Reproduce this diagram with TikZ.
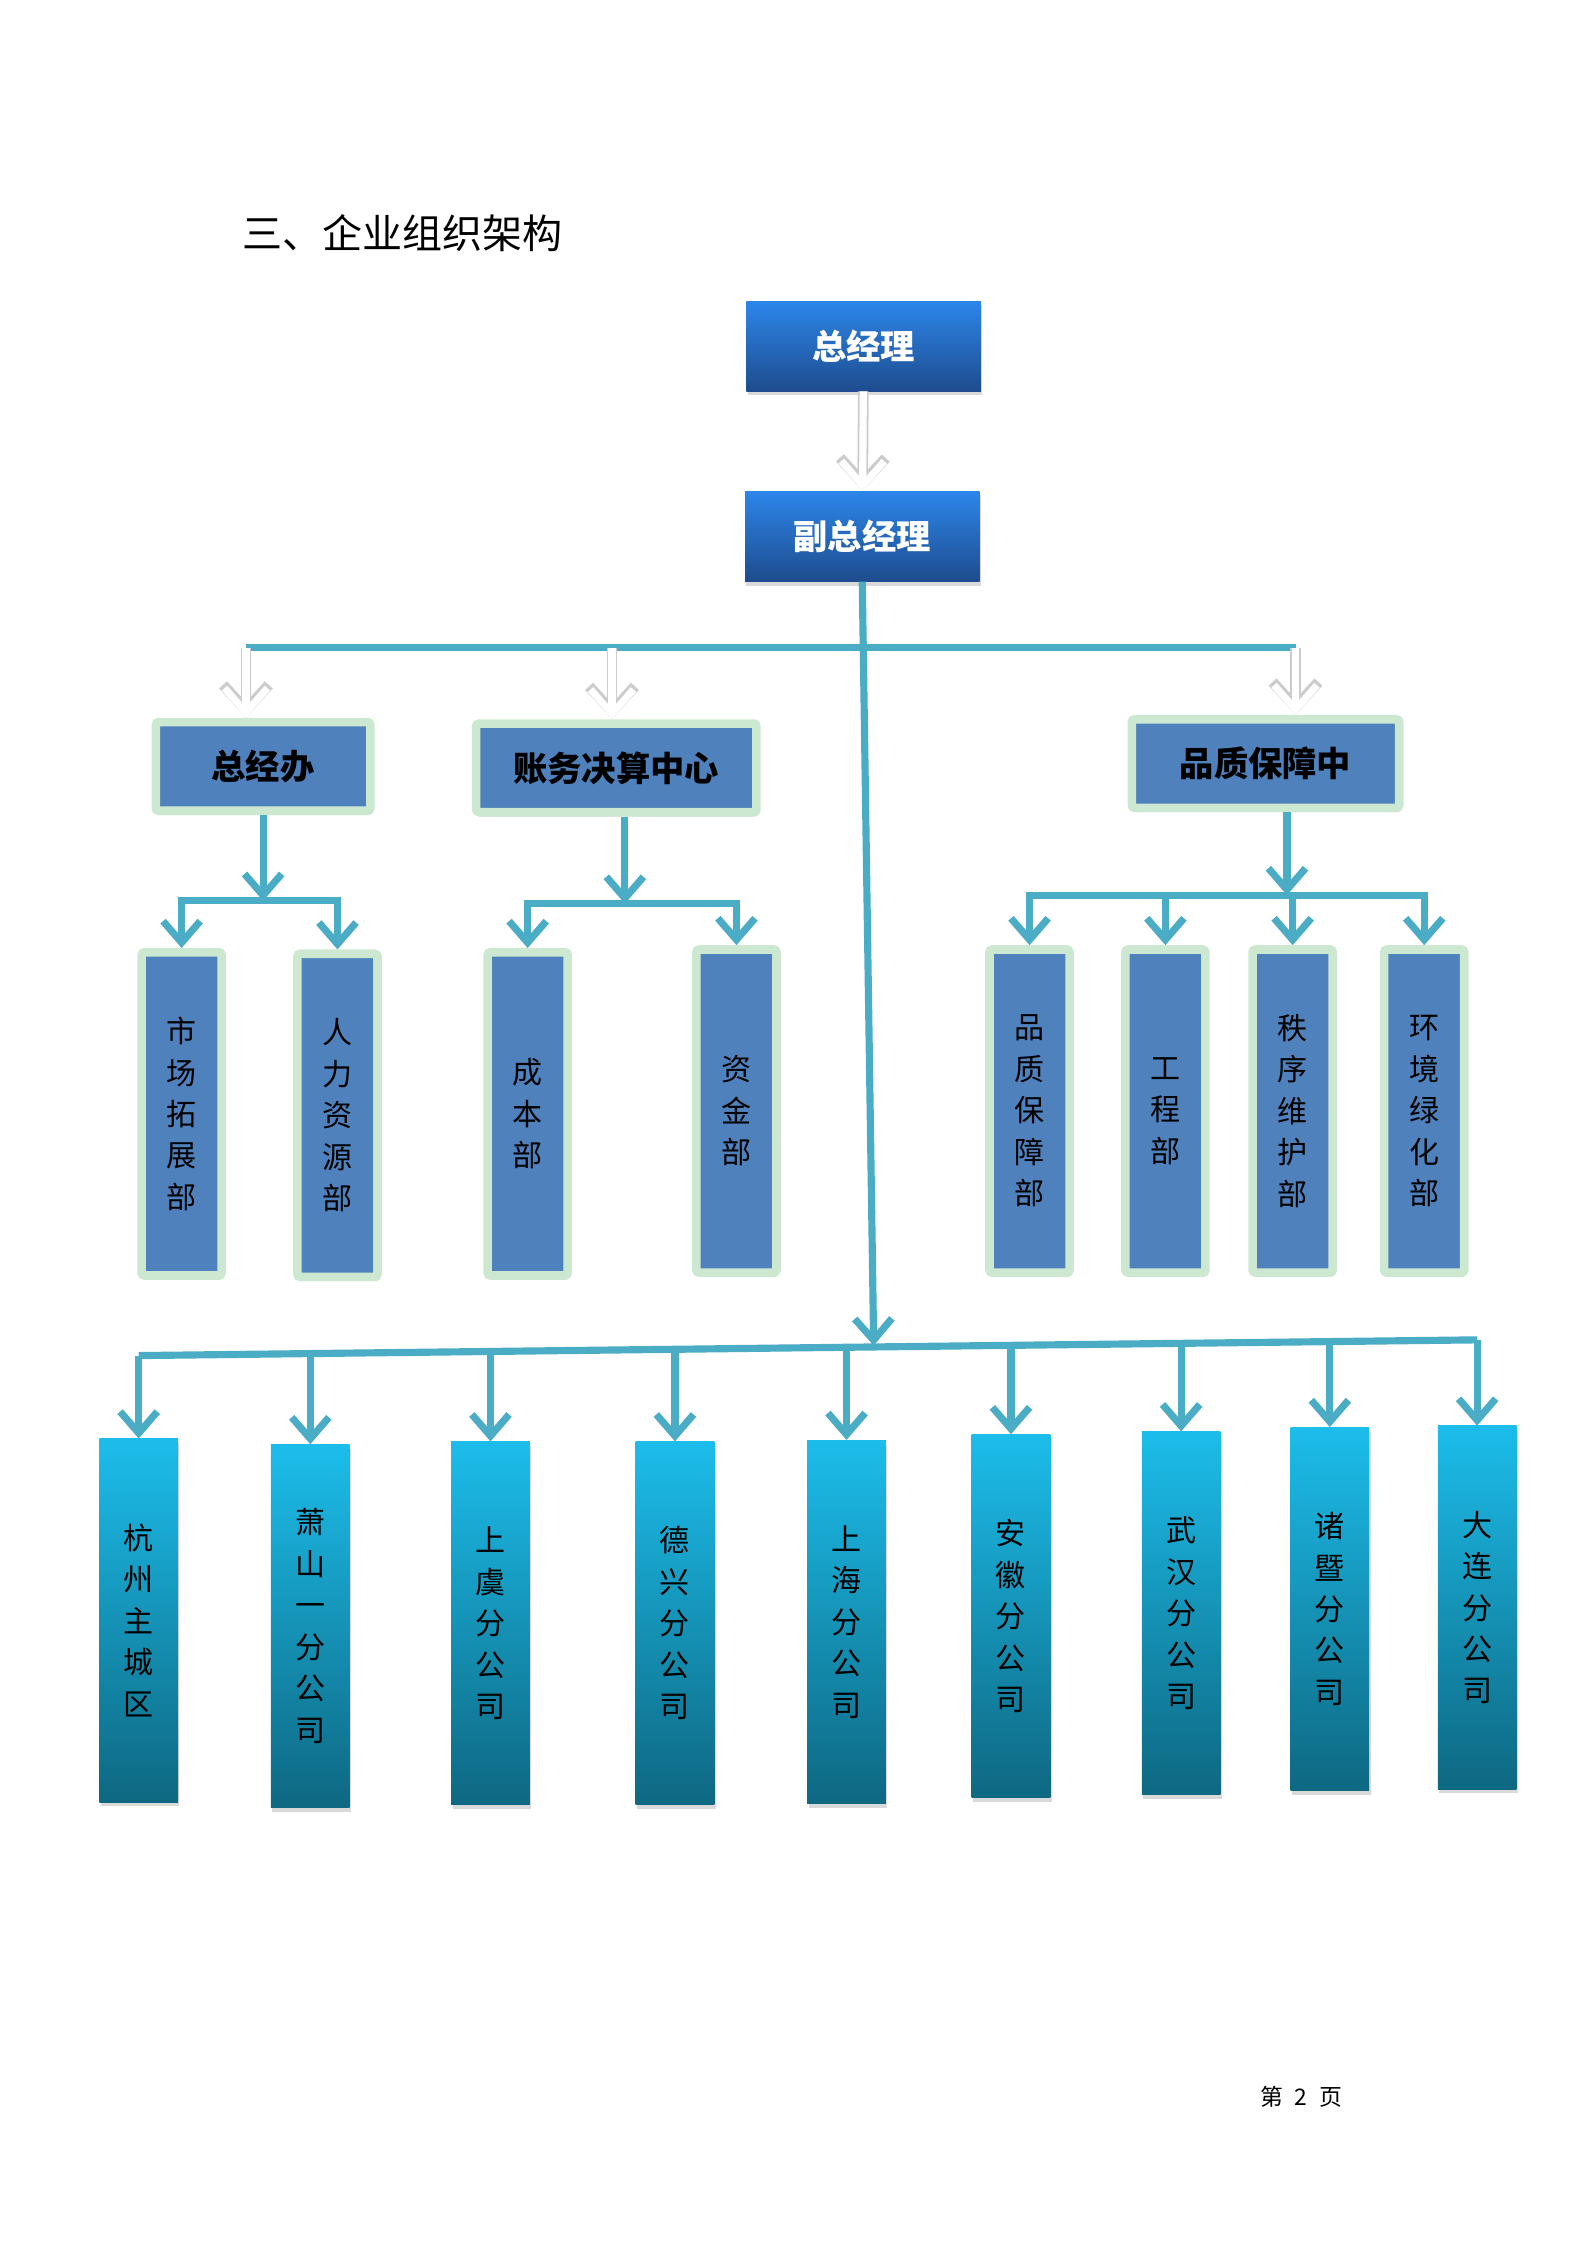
\documentclass[tikz,border=0pt]{standalone}
\usepackage{fontspec}
\newfontfamily\cjk{Noto Sans CJK SC}
\usetikzlibrary{arrows.meta,shadows}

\definecolor{bosstop}{HTML}{2C86EA}
\definecolor{bossbot}{HTML}{1E4C8E}
\definecolor{unitfill}{HTML}{4F81BD}
\definecolor{unitedge}{HTML}{CCE8D0}
\definecolor{brtop}{HTML}{1CBDEB}
\definecolor{brbot}{HTML}{0E6882}
\definecolor{lineblue}{HTML}{4BACC6}

\tikzset{
  boss/.style={top color=bosstop, bottom color=bossbot, text=white,
    font=\cjk\bfseries\fontsize{24}{28}\selectfont,
    minimum width=164pt, minimum height=63pt, inner sep=0pt,
    drop shadow={shadow xshift=1pt, shadow yshift=-3pt, opacity=.3}},
  unit/.style={draw=unitedge, line width=6pt, fill=unitfill, rounded corners=2pt,
    font=\cjk\bfseries\fontsize{24}{28}\selectfont,
    minimum height=62pt, inner sep=0pt,
    drop shadow={shadow xshift=1pt, shadow yshift=-3pt, opacity=.25}},
  dept/.style={draw=unitedge, line width=6pt, fill=unitfill, rounded corners=2pt,
    font=\cjk\fontsize{21}{29}\selectfont, align=center,
    minimum width=56pt, minimum height=226pt, inner sep=0pt,
    drop shadow={shadow xshift=1pt, shadow yshift=-3pt, opacity=.25}},
  branch/.style={top color=brtop, bottom color=brbot, anchor=north,
    font=\cjk\fontsize{21}{29}\selectfont, align=center,
    minimum width=55pt, minimum height=254pt, inner sep=0pt,
    drop shadow={shadow xshift=1pt, shadow yshift=-3pt, opacity=.3}},
  bar/.style={draw=lineblue, line width=5pt},
  link/.style={draw=lineblue, line width=5pt, -{Straight Barb[length=15pt,width=26pt]}},
  hollow/.style={draw=white, line width=5pt, -{Straight Barb[length=17pt,width=30pt]},
    preaction={draw=black!20, line width=7.5pt, -{Straight Barb[length=17.5pt,width=32pt]}}}
}

\begin{document}
\begin{tikzpicture}[x=1pt,y=-1pt]
	\useasboundingbox (0,0) rectangle (1110,1570);
	
	\node[anchor=west, font=\cjk\fontsize{28}{30}\selectfont] (title) at (166,163) {三、企业组织架构};
	
	% top
	\node[boss] (gm) at (604,242) {总经理};
	\node[boss] (dgm) at (603,375) {副总经理};
	\draw[hollow] (gm) -- (dgm);
	
	% centres
	\node[unit, minimum width=150pt] (office) at (184,536) {总经办};
	\node[unit, minimum width=196pt] (finance) at (431,537) {账务决算中心};
	\node[unit, minimum width=187pt] (quality) at (885,534) {品质保障中};
	
	\coordinate (busL) at (172,453);
	\coordinate (busR) at (906,453);
	\coordinate (busF) at (428,453);
	\draw[bar] (busL) -- (busR);
	\draw[hollow] (busL) -- (busL |- office.north);
	\draw[hollow] (busF) -- (busF |- finance.north);
	\draw[hollow] (busR) -- (busR |- quality.north);
	
	% departments
	\node[dept] (market) at (127,779) {市\\场\\拓\\展\\部};
	\node[dept] (hr) at (236,780) {人\\力\\资\\源\\部};
	\node[dept] (cost) at (369,779) {成\\本\\部};
	\node[dept] (fund) at (515,777) {资\\金\\部};
	\node[dept] (qa) at (720,777) {品\\质\\保\\障\\部};
	\node[dept] (eng) at (815,777) {工\\程\\部};
	\node[dept] (order) at (904,777) {秩\\序\\维\\护\\部};
	\node[dept] (env) at (996,777) {环\\境\\绿\\化\\部};
	
	\coordinate (o) at (184,630);
	\coordinate (f) at (437,632);
	\coordinate (q) at (900,626);
	\draw[link] (office.south) -- (o);
	\draw[link] (f |- finance.south) -- (f);
	\draw[link] (q |- quality.south) -- (q);
	\foreach \a/\b in {o/market, o/hr, f/cost, f/fund, q/qa, q/eng, q/order, q/env}
		\draw[link] (\a) -| (\b.north);
	
	% branches
	\coordinate (hub) at (611,941);
	\draw[link] (dgm.south) -- (hub);
	\draw[bar] (97,948) -- (1033,937);
	\foreach \nm/\x/\y/\txt in {
		hz/97/1006/{杭\\州\\主\\城\\区},
		xs/217/1010/{萧\\山\\一\\分\\公\\司},
		sy/343/1008/{上\\虞\\分\\公\\司},
		dx/472/1008/{德\\兴\\分\\公\\司},
		sh/592/1007/{上\\海\\分\\公\\司},
		ah/707/1003/{安\\徽\\分\\公\\司},
		wh/826/1001/{武\\汉\\分\\公\\司},
		zj/930/998/{诸\\暨\\分\\公\\司},
		dl/1033/997/{大\\连\\分\\公\\司}}
	{
		\node[branch] (\nm) at (\x,\y) {\txt};
		\pgfmathsetmacro\by{948-(\x-97)*0.01175}
		\coordinate (\nm-in) at (\x,\by);
		\draw[link] (\nm-in) -- (\nm.north);
	}
	
	\node[font=\cjk\fontsize{16}{18}\selectfont] (page) at (910,1466) {第\enspace 2\enspace 页};
\end{tikzpicture}
\end{document}
